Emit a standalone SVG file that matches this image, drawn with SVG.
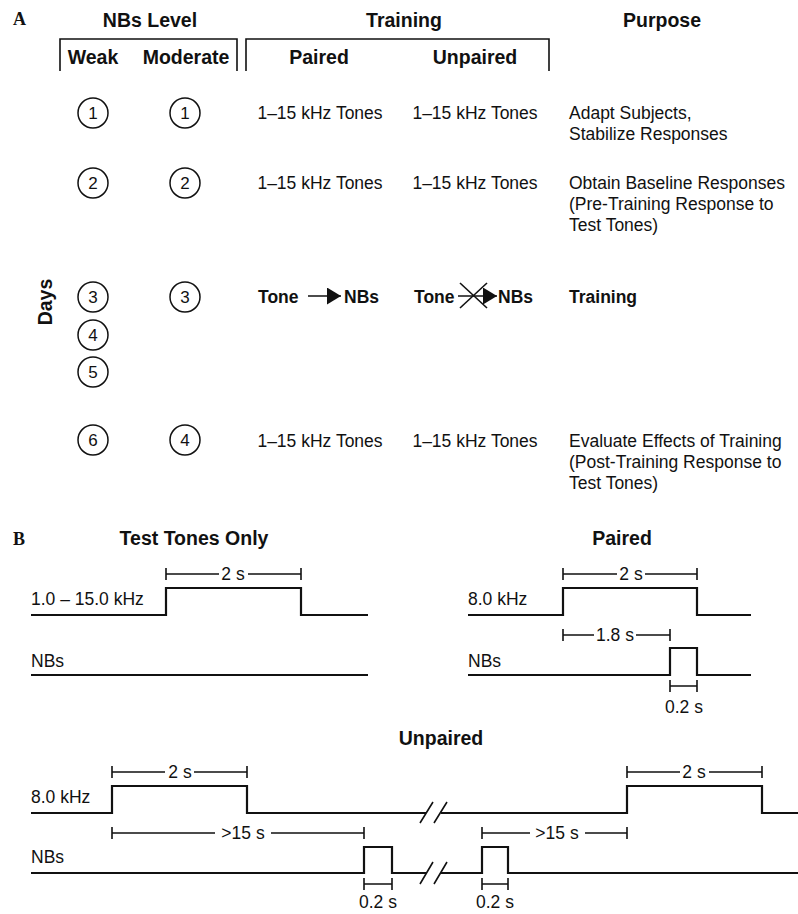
<svg xmlns="http://www.w3.org/2000/svg" width="798" height="914" viewBox="0 0 798 914">
<style>
text{font-family:"Liberation Sans",Arial,sans-serif;fill:#111}
.h{font-weight:bold;font-size:19.5px}
.t{font-size:17.5px}
.n{font-size:17px;text-anchor:middle}
.c{text-anchor:middle}
.lab{font-family:"Liberation Serif","Times New Roman",serif;font-weight:bold;font-size:18px}
.ln{fill:none;stroke:#111;stroke-width:1.6}
.sig{fill:none;stroke:#111;stroke-width:2.2}
.dim{fill:none;stroke:#111;stroke-width:1.6}
circle{fill:none;stroke:#111;stroke-width:1.5}
</style>
<defs>
<marker id="ah" viewBox="0 0 14 17" refX="14" refY="8.5" markerWidth="14" markerHeight="17" markerUnits="userSpaceOnUse" orient="auto"><path d="M0,0 L14,8.5 L0,17 Z" fill="#111"/></marker>
</defs>

<!-- Panel A -->
<text class="lab" x="13" y="25">A</text>
<g id="headers">
<text class="h c" x="150" y="27">NBs Level</text>
<text class="h c" x="404" y="27">Training</text>
<text class="h c" x="662" y="27">Purpose</text>
<path class="ln" d="M60,71 V39 H237 V71"/>
<path class="ln" d="M246,71 V39 H549 V71"/>
<text class="h c" x="93" y="64">Weak</text>
<text class="h c" x="186" y="64">Moderate</text>
<text class="h c" x="319" y="64">Paired</text>
<text class="h c" x="475" y="64">Unpaired</text>
</g>
<text class="h c" transform="translate(52,302) rotate(-90)">Days</text>

<g id="day-weak">
<circle cx="93" cy="113" r="15"/><text class="n" x="93" y="119">1</text>
<circle cx="93" cy="183" r="15"/><text class="n" x="93" y="189">2</text>
<circle cx="93" cy="297" r="15"/><text class="n" x="93" y="303">3</text>
<circle cx="93" cy="335" r="15"/><text class="n" x="93" y="341">4</text>
<circle cx="93" cy="372" r="15"/><text class="n" x="93" y="378">5</text>
<circle cx="93" cy="440" r="15"/><text class="n" x="93" y="446">6</text>
</g>
<g id="day-moderate">
<circle cx="185" cy="113" r="15"/><text class="n" x="185" y="119">1</text>
<circle cx="185" cy="183" r="15"/><text class="n" x="185" y="189">2</text>
<circle cx="185" cy="297" r="15"/><text class="n" x="185" y="303">3</text>
<circle cx="185" cy="440" r="15"/><text class="n" x="185" y="446">4</text>
</g>

<g id="row1">
<text class="t c" x="320" y="119">1–15 kHz Tones</text>
<text class="t c" x="475" y="119">1–15 kHz Tones</text>
<text class="t" x="569" y="119">Adapt Subjects,</text>
<text class="t" x="569" y="140">Stabilize Responses</text>
</g>
<g id="row2">
<text class="t c" x="320" y="189">1–15 kHz Tones</text>
<text class="t c" x="475" y="189">1–15 kHz Tones</text>
<text class="t" x="569" y="189">Obtain Baseline Responses</text>
<text class="t" x="569" y="210">(Pre-Training Response to</text>
<text class="t" x="569" y="231">Test Tones)</text>
</g>
<g id="row3">
<text class="h" style="font-size:17.5px" x="258" y="303">Tone</text>
<text class="h" style="font-size:17.5px" x="344" y="303">NBs</text>
<text class="h" style="font-size:17.5px" x="414" y="303">Tone</text>
<text class="h" style="font-size:17.5px" x="498" y="303">NBs</text>
<text class="h" style="font-size:17.5px" x="569" y="303">Training</text>
</g>
<g id="connectors">
<line class="ln" x1="308" y1="296" x2="341" y2="296" marker-end="url(#ah)"/>
<line class="ln" x1="458" y1="296" x2="497" y2="296" marker-end="url(#ah)"/>
<line class="ln" x1="460" y1="283" x2="487" y2="308"/>
<line class="ln" x1="487" y1="283" x2="460" y2="308"/>
</g>
<g id="row4">
<text class="t c" x="320" y="447">1–15 kHz Tones</text>
<text class="t c" x="475" y="447">1–15 kHz Tones</text>
<text class="t" x="569" y="447">Evaluate Effects of Training</text>
<text class="t" x="569" y="468">(Post-Training Response to</text>
<text class="t" x="569" y="489">Test Tones)</text>
</g>

<!-- Panel B -->
<text class="lab" x="13" y="545">B</text>

<g id="test-tones-only">
<text class="h c" x="194" y="545">Test Tones Only</text>
<path class="dim" d="M166,568 V580 M166,574 H219 M248,574 H301 M301,568 V580"/>
<text class="t c" x="233" y="580">2 s</text>
<text class="t" x="31" y="605">1.0 – 15.0 kHz</text>
<path class="sig" d="M31,615 H166 V588 H301 V615 H368"/>
<text class="t" x="31" y="667">NBs</text>
<path class="sig" d="M31,675 H368"/>
</g>

<g id="paired">
<text class="h c" x="622" y="545">Paired</text>
<path class="dim" d="M563,568 V580 M563,574 H617 M645,574 H697 M697,568 V580"/>
<text class="t c" x="631" y="580">2 s</text>
<text class="t" x="468" y="605">8.0 kHz</text>
<path class="sig" d="M468,615 H563 V588 H697 V615 H751"/>
<path class="dim" d="M563,629 V641 M563,635 H594 M636,635 H670 M670,629 V641"/>
<text class="t c" x="615" y="641">1.8 s</text>
<text class="t" x="468" y="667">NBs</text>
<path class="sig" d="M468,675 H670 V648 H697 V675 H751"/>
<path class="dim" d="M670,680 V692 M670,686 H697 M697,680 V692"/>
<text class="t c" x="684" y="713">0.2 s</text>
</g>

<g id="unpaired">
<text class="h c" x="441" y="745">Unpaired</text>
<path class="dim" d="M112,766 V778 M112,772 H165 M194,772 H247 M247,766 V778"/>
<text class="t c" x="180" y="778">2 s</text>
<text class="t" x="31" y="803">8.0 kHz</text>
<path class="sig" d="M31,813 H112 V786 H247 V813 H426 M441,813 H627 V786 H762 V813 H798"/>
<path class="ln" d="M420,823 L433,802 M434,823 L447,802"/>
<path class="dim" d="M627,766 V778 M627,772 H680 M709,772 H762 M762,766 V778"/>
<text class="t c" x="694" y="778">2 s</text>

<path class="dim" d="M112,827 V839 M112,833 H215 M271,833 H364 M364,827 V839"/>
<text class="t c" x="243" y="839">&gt;15 s</text>
<path class="dim" d="M482,827 V839 M482,833 H530 M585,833 H627 M627,827 V839"/>
<text class="t c" x="557" y="839">&gt;15 s</text>

<text class="t" x="31" y="863">NBs</text>
<path class="sig" d="M31,873 H364 V847 H392 V873 H426 M441,873 H482 V847 H508 V873 H798"/>
<path class="ln" d="M420,884 L433,862 M434,884 L447,862"/>
<path class="dim" d="M364,878 V890 M364,884 H392 M392,878 V890"/>
<text class="t c" x="378" y="908">0.2 s</text>
<path class="dim" d="M482,878 V890 M482,884 H508 M508,878 V890"/>
<text class="t c" x="495" y="908">0.2 s</text>
</g>
</svg>
